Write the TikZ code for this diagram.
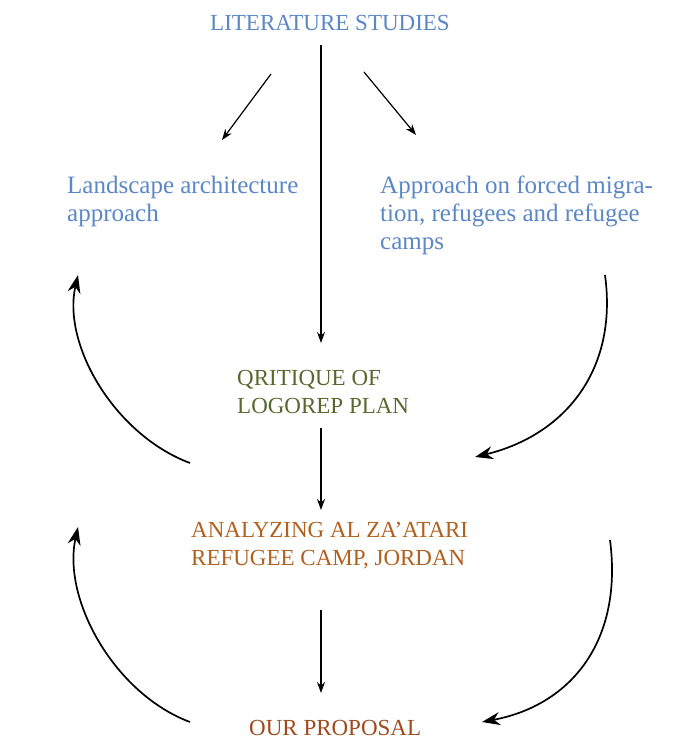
\documentclass[tikz,border=0pt]{standalone}
\usepackage{fontspec}
\setmainfont{Liberation Serif}
\usetikzlibrary{arrows.meta}
\definecolor{cblue}{HTML}{5B87C7}
\definecolor{colive}{HTML}{5A6830}
\definecolor{corange}{HTML}{B0601F}
\definecolor{crust}{HTML}{9E4A1E}
\begin{document}
\begin{tikzpicture}[x=1pt,y=-1pt,
  lower/.style={inner sep=0pt,anchor=base west,align=left,font=\fontsize{25}{28}\selectfont},
  upper/.style={inner sep=0pt,anchor=base west,align=left,font=\fontsize{23}{28}\selectfont},
  arr/.style={-{Stealth[length=11pt,width=8pt]},line width=1.2pt,black},
  carr/.style={-{Stealth[length=18pt,width=13pt]},line width=1.7pt,black}]
\useasboundingbox (0,0) rectangle (689,739);
% texts (anchor = baseline of last line)
\node[upper,text=cblue] (lit) at (210,30) {LITERATURE STUDIES};
\node[lower,text=cblue] (land) at (67,221) {Landscape architecture\\approach};
\node[lower,text=cblue] (forced) at (380,249) {Approach on forced migra-\\tion, refugees and refugee\\camps};
\node[upper,text=colive] (crit) at (237,413) {QRITIQUE OF\\LOGOREP PLAN};
\node[upper,text=corange] (anal) at (191,565) {ANALYZING AL ZA’ATARI\\REFUGEE CAMP, JORDAN};
\node[upper,text=crust] (prop) at (249,735) {OUR PROPOSAL};
% straight connector end points
\coordinate (a1s) at (321,45);  \coordinate (a1e) at (321,343);
\coordinate (a2s) at (271,74);  \coordinate (a2e) at (222,140);
\coordinate (a3s) at (364,72);  \coordinate (a3e) at (416,135);
\coordinate (a4s) at (321,428); \coordinate (a4e) at (321,510);
\coordinate (a5s) at (321,610); \coordinate (a5e) at (321,693);
\draw[arr] (a1s) -- (a1e);
\draw[arr] (a2s) -- (a2e);
\draw[arr] (a3s) -- (a3e);
\draw[arr] (a4s) -- (a4e);
\draw[arr] (a5s) -- (a5e);
% curved connectors
\coordinate (c1s) at (190,463); \coordinate (c1e) at (78,275);
\coordinate (c2s) at (605,275); \coordinate (c2e) at (475,457);
\coordinate (c3s) at (190,722); \coordinate (c3e) at (78,527);
\coordinate (c4s) at (610,540); \coordinate (c4e) at (482,722);
\draw[carr] (c1s) .. controls (115,435) and (62,345) .. (c1e);
\draw[carr] (c2s) .. controls (618,370) and (565,435) .. (c2e);
\draw[carr] (c3s) .. controls (115,694) and (62,600) .. (c3e);
\draw[carr] (c4s) .. controls (623,640) and (572,705) .. (c4e);
\end{tikzpicture}
\end{document}
